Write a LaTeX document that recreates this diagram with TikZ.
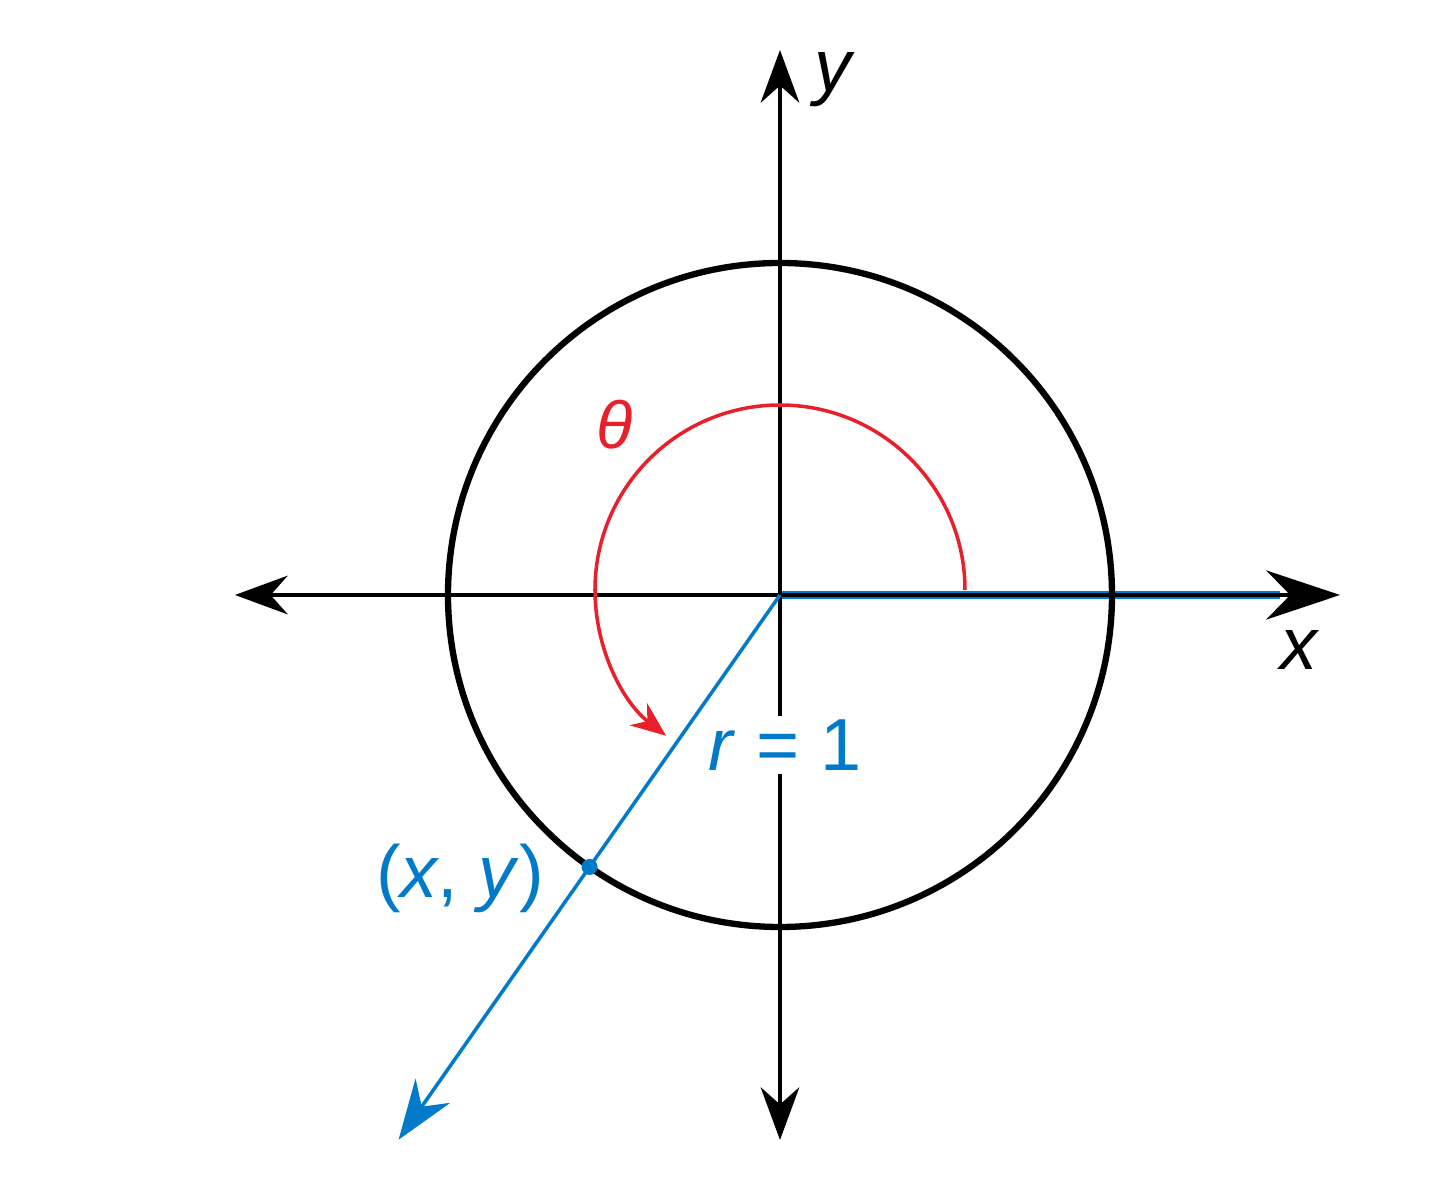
\documentclass[tikz,border=0pt]{standalone}
\usepackage{fontspec}
\setmainfont{Liberation Sans}
\usetikzlibrary{arrows.meta}
\definecolor{rayblue}{RGB}{0,122,201}
\definecolor{anglered}{RGB}{232,32,44}
\begin{document}
\begin{tikzpicture}[axis/.style={line width=1pt,{Stealth[length=15pt,width=11pt]}-{Stealth[length=15pt,width=11pt]}},
  lbl/.style={font=\fontsize{21}{25}\selectfont}]
\useasboundingbox (-7.8,-5.83) rectangle (6.6,5.95);
\coordinate (O) at (0,0);
\coordinate (xl) at (-5.45,0);
\coordinate (xr) at (5.6,0);
\coordinate (xs) at (5.0,0);
\coordinate (yt) at (0,5.45);
\coordinate (yb) at (0,-5.45);
\coordinate (tip) at (235:6.65);
\coordinate (P) at (235:3.32);
% initial side under the x axis
\draw[rayblue, line width=2.4pt] (O) -- (xs);
\draw[line width=1pt, {Stealth[length=15pt,width=11pt]}-{Stealth[length=21pt,width=14pt]}] (xl) -- (xr);
\draw[axis] (yb) -- (yt);
\draw[line width=1.8pt] (O) circle (3.32);
\node[lbl, rayblue, fill=white, inner sep=1pt] (r) at (0.05,-1.5) {\textit{r} = 1};
% terminal side
\draw[rayblue, line width=1pt, -{Stealth[length=17pt,width=12pt]}] (O) -- (tip);
\fill[rayblue] (P) circle (0.08);
\draw[anglered, line width=1pt, -{Stealth[length=10pt,width=8pt]}] (1.85,0.05) arc[start angle=0, end angle=232, radius=1.85];
\node[lbl, anglered, font=\fontsize{19}{23}\selectfont\itshape] (theta) at (-1.65,1.7) {θ};
\node[lbl] (ylab) at (0.55,5.15) {\textit{y}};
\node[lbl] (xlab) at (5.2,-0.55) {\textit{x}};
\node[lbl, rayblue] (pt) at (-3.2,-2.83) {(\textit{x}, \textit{y})};
\end{tikzpicture}
\end{document}
